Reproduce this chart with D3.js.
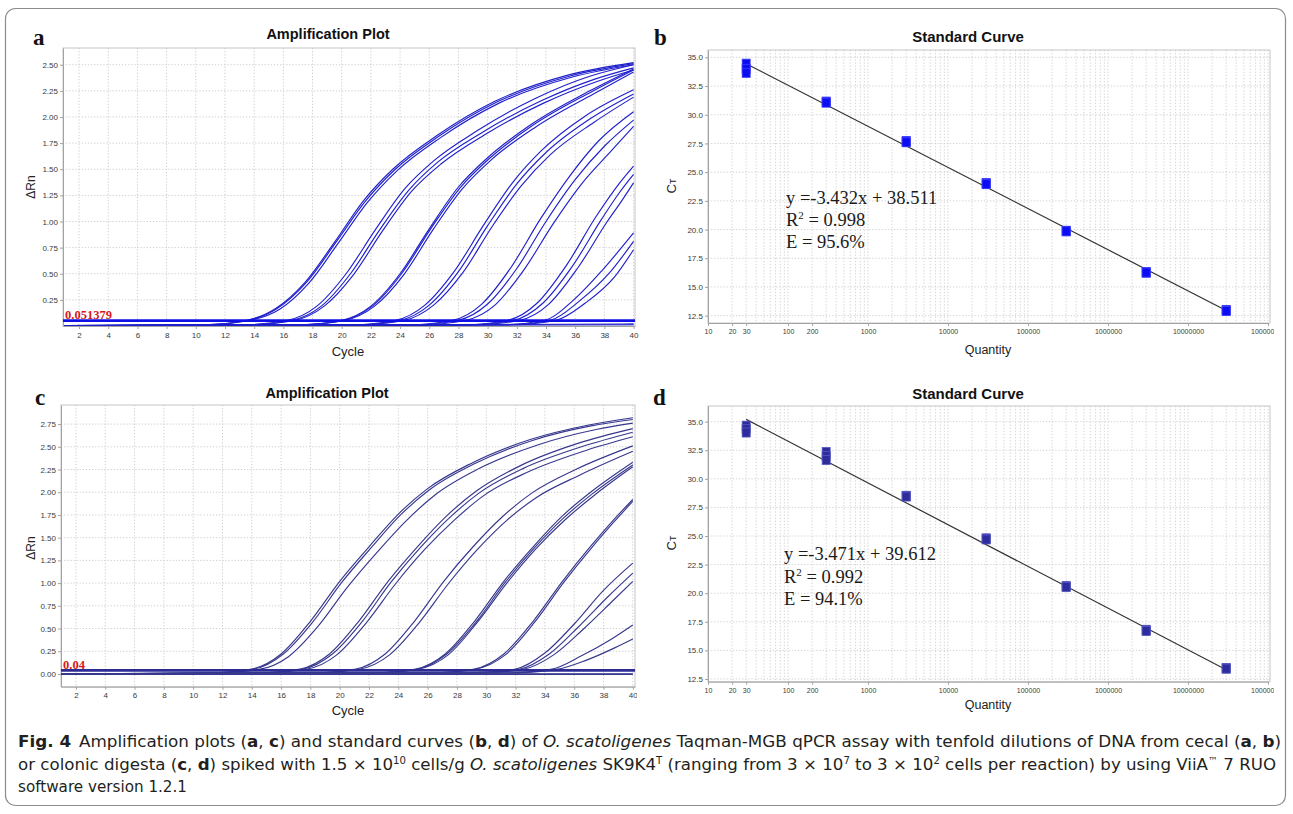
<!DOCTYPE html>
<html><head><meta charset="utf-8">
<script src="https://cdn.jsdelivr.net/npm/d3@7"></script>
<style>body{margin:0;background:#fff}svg{display:block}</style>
</head><body>
<svg id="fig" width="1293" height="814"></svg>
<script>
// ---------------- data ----------------
const cycleTicks = [2,4,6,8,10,12,14,16,18,20,22,24,26,28,30,32,34,36,38,40];
const drnTicksA = [0.25,0.50,0.75,1.00,1.25,1.50,1.75,2.00,2.25,2.50];
const drnTicksC = [0.00,0.25,0.50,0.75,1.00,1.25,1.50,1.75,2.00,2.25,2.50,2.75];
const qtyTicks = [10,20,30,100,200,1000,10000,100000,1000000,10000000,100000000];
const ctTicks = [12.5,15.0,17.5,20.0,22.5,25.0,27.5,30.0,32.5,35.0];
const thresholdA = 0.051379;
const thresholdC = 0.04;

// amplification curves, cecal digesta (panel a): [cycle, ΔRn]
const ampCurvesA = [
  [[1,0.003],[10.5,0.012],[13.5,0.055],[15.5,0.17],[17.5,0.42],[19.5,0.80],[21.5,1.20],[23.5,1.50],[26.5,1.82],[30.5,2.15],[35.5,2.40],[40,2.52]],
  [[1,0.002],[10.6,0.012],[13.6,0.055],[15.6,0.17],[17.6,0.42],[19.6,0.80],[21.6,1.19],[23.6,1.49],[26.6,1.81],[30.6,2.14],[35.6,2.39],[40,2.51]],
  [[1,0.001],[10.75,0.012],[13.75,0.055],[15.75,0.16],[17.75,0.41],[19.75,0.79],[21.75,1.18],[23.75,1.48],[26.75,1.80],[30.75,2.13],[35.75,2.38],[40,2.50]],
  [[1,0.004],[13.3,0.012],[16.3,0.055],[18.3,0.19],[20.3,0.50],[22.3,0.92],[24.3,1.31],[26.3,1.58],[29.3,1.87],[33.3,2.18],[37,2.39],[40,2.50]],
  [[1,0.002],[13.6,0.012],[16.6,0.055],[18.6,0.19],[20.6,0.50],[22.6,0.92],[24.6,1.30],[26.6,1.57],[29.6,1.85],[33.6,2.15],[37.3,2.36],[40,2.47]],
  [[1,0.000],[13.8,0.012],[16.8,0.055],[18.8,0.19],[20.8,0.49],[22.8,0.91],[24.8,1.29],[26.8,1.55],[29.8,1.83],[33.8,2.13],[37.5,2.34],[40,2.45]],
  [[1,0.003],[17,0.012],[20,0.055],[22,0.19],[24,0.50],[26,0.93],[28,1.33],[30,1.61],[33,1.93],[37,2.25],[40,2.46]],
  [[1,0.001],[17.1,0.012],[20.1,0.055],[22.1,0.19],[24.1,0.50],[26.1,0.93],[28.1,1.32],[30.1,1.60],[33.1,1.92],[37.1,2.24],[40,2.45]],
  [[1,0.000],[17.25,0.012],[20.25,0.055],[22.25,0.19],[24.25,0.49],[26.25,0.92],[28.25,1.31],[30.25,1.59],[33.25,1.90],[37.25,2.22],[40,2.43]],
  [[1,0.004],[20.7,0.012],[23.7,0.055],[25.7,0.20],[27.7,0.52],[29.7,0.96],[31.7,1.37],[33.7,1.68],[36.7,2.01],[40,2.26]],
  [[1,0.002],[21,0.012],[24,0.055],[26,0.20],[28,0.52],[30,0.96],[32,1.36],[34,1.66],[37,1.98],[40,2.22]],
  [[1,0.000],[21.3,0.012],[24.3,0.055],[26.3,0.20],[28.3,0.51],[30.3,0.95],[32.3,1.34],[34.3,1.64],[37.3,1.95],[40,2.19]],
  [[1,0.003],[24.6,0.012],[27.6,0.055],[29.6,0.21],[31.6,0.56],[33.6,1.02],[35.6,1.43],[37.6,1.77],[40,2.05]],
  [[1,0.001],[25,0.012],[28,0.055],[30,0.21],[32,0.55],[34,1.00],[36,1.40],[38,1.72],[40,1.97]],
  [[1,0.000],[25.5,0.012],[28.5,0.055],[30.5,0.20],[32.5,0.54],[34.5,0.98],[36.5,1.37],[38.5,1.68],[40,1.91]],
  [[1,0.003],[28.4,0.012],[31.4,0.055],[33.4,0.22],[35.4,0.58],[37.4,1.04],[39,1.36],[40,1.53]],
  [[1,0.001],[28.8,0.012],[31.8,0.055],[33.8,0.22],[35.8,0.57],[37.8,1.02],[39,1.27],[40,1.45]],
  [[1,0.000],[29.2,0.012],[32.2,0.055],[34.2,0.21],[36.2,0.56],[38.2,1.00],[39.2,1.20],[40,1.37]],
  [[1,0.003],[31,0.012],[33.9,0.055],[35.9,0.25],[37.9,0.54],[40,0.89]],
  [[1,0.001],[31.3,0.012],[34.3,0.055],[36.3,0.24],[38.3,0.50],[40,0.81]],
  [[1,0.000],[31.7,0.012],[34.7,0.055],[36.7,0.22],[38.7,0.47],[40,0.73]],
  [[1,0.004],[20,0.008],[40,0.020]],
  [[1,0.002],[40,0.012]]
];

// amplification curves, colonic digesta (panel c)
const ampCurvesC = [
  [[1,0.000],[11,0.012],[14,0.055],[16,0.22],[18,0.58],[20,1.02],[22,1.40],[24,1.76],[26,2.04],[29,2.32],[33,2.58],[37,2.74],[40,2.82]],
  [[1,-0.005],[11.15,0.012],[14.15,0.055],[16.15,0.22],[18.15,0.57],[20.15,1.01],[22.15,1.39],[24.15,1.75],[26.15,2.03],[29.15,2.31],[33.15,2.57],[37.15,2.73],[40,2.80]],
  [[1,0.000],[11.5,0.012],[14.5,0.05],[16.5,0.19],[18.5,0.52],[20.5,0.95],[22.5,1.33],[24.5,1.68],[26.5,1.97],[29.5,2.26],[33.5,2.52],[37.5,2.69],[40,2.76]],
  [[1,0.000],[14.3,0.012],[17.3,0.055],[19.3,0.22],[21.3,0.58],[23.3,1.02],[25.3,1.40],[27.3,1.74],[29.3,2.01],[32.3,2.29],[36.3,2.54],[40,2.70]],
  [[1,-0.005],[14.5,0.012],[17.5,0.055],[19.5,0.22],[21.5,0.57],[23.5,1.01],[25.5,1.39],[27.5,1.72],[29.5,1.99],[32.5,2.26],[36.5,2.50],[40,2.66]],
  [[1,0.000],[14.8,0.012],[17.8,0.055],[19.8,0.21],[21.8,0.56],[23.8,0.99],[25.8,1.37],[27.8,1.69],[29.8,1.96],[32.8,2.22],[36.8,2.46],[40,2.61]],
  [[1,0.000],[18.1,0.012],[21.1,0.055],[23.1,0.22],[25.1,0.58],[27.1,1.02],[29.1,1.40],[31.1,1.73],[33.1,1.99],[36.1,2.25],[40,2.51]],
  [[1,-0.004],[18.4,0.012],[21.4,0.055],[23.4,0.21],[25.4,0.56],[27.4,0.99],[29.4,1.37],[31.4,1.69],[33.4,1.94],[36.4,2.19],[40,2.45]],
  [[1,0.000],[22.2,0.012],[25.2,0.055],[27.2,0.22],[29.2,0.58],[31.2,1.02],[33.2,1.40],[35.2,1.74],[37.2,2.01],[40,2.33]],
  [[1,-0.003],[22.3,0.012],[25.3,0.055],[27.3,0.22],[29.3,0.57],[31.3,1.01],[33.3,1.39],[35.3,1.72],[37.3,1.99],[40,2.30]],
  [[1,0.000],[22.4,0.012],[25.4,0.055],[27.4,0.21],[29.4,0.57],[31.4,1.00],[33.4,1.38],[35.4,1.70],[37.4,1.97],[40,2.28]],
  [[1,0.000],[26.2,0.012],[29.2,0.055],[31.2,0.22],[33.2,0.58],[35.2,1.02],[37.2,1.42],[38.6,1.68],[40,1.92]],
  [[1,-0.004],[26.3,0.012],[29.3,0.055],[31.3,0.21],[33.3,0.57],[35.3,1.01],[37.3,1.41],[38.7,1.67],[40,1.90]],
  [[1,0.000],[29,0.012],[32,0.055],[34,0.23],[36,0.55],[38,0.92],[40,1.22]],
  [[1,-0.003],[29.3,0.012],[32.3,0.055],[34.3,0.22],[36.3,0.52],[38.3,0.85],[40,1.11]],
  [[1,0.000],[29.6,0.012],[32.6,0.055],[34.6,0.21],[36.6,0.49],[38.6,0.80],[40,1.02]],
  [[1,0.000],[31.5,0.012],[34.5,0.055],[36.5,0.20],[38.5,0.38],[40,0.54]],
  [[1,-0.004],[31.8,0.012],[34.8,0.05],[36.8,0.15],[38.8,0.29],[40,0.385]],
  [[1,-0.006],[40,-0.004]],
  [[1,0.002],[40,0.001]]
];

// standard curves
const quantities = [30,300,3000,30000,300000,3000000,30000000];
const ctRepsB = [[34.45,34.0,33.65],[31.15,31.1,31.05],[27.72,27.65,27.6],[24.05,24.0,23.95],[19.9,19.85,19.85],[16.3,16.25,16.25],[13.0,12.95,12.9]];
const ctRepsD = [[34.65,34.35,34.05],[32.35,32.0,31.65],[28.52,28.5,28.45],[24.8,24.75,24.7],[20.62,20.58,20.55],[16.8,16.75,16.7],[13.45,13.42,13.4]];
const fitLineB = [[30,34.45],[30000000,12.95]];
const fitLineD = [[30,35.2],[30000000,13.3]];
const equationB = {slope:"-3.432", intercept:"38.511", r2:"0.998", eff:"95.6%"};
const equationD = {slope:"-3.471", intercept:"39.612", r2:"0.992", eff:"94.1%"};

// ---------------- drawing ----------------
const svg = d3.select('#fig');
const SANS = "'Liberation Sans', Arial, Helvetica, sans-serif";
const SERIF = "'Liberation Serif', 'Times New Roman', serif";
const defs = svg.append('defs');
svg.append('rect').attr('width',1293).attr('height',814).attr('fill','#fff');

function clip(id,x,y,w,h){
  defs.append('clipPath').attr('id',id).append('rect').attr('x',x).attr('y',y).attr('width',w).attr('height',h);
  return `url(#${id})`;
}
function styleAxis(sel,fs){
  sel.select('.domain').attr('stroke','#a3a3a3');
  sel.selectAll('.tick line').attr('stroke','#a3a3a3');
  sel.selectAll('text').attr('font-family',SANS).attr('font-size',fs).attr('fill','#3a3a3a');
}

function ampPanel(o){
  const root = svg.append('g').attr('clip-path', clip(o.id+'outer',0,0,o.clipR,814));
  const x = d3.scaleLinear().domain(o.xDom).range([o.l,o.r]);
  const y = d3.scaleLinear().domain(o.yDom).range([o.b,o.t]);
  const grid = root.append('g').attr('stroke','#cfcfcf').attr('stroke-dasharray','1.3,1.8');
  grid.selectAll('.v').data(cycleTicks).join('line')
    .attr('x1',d=>x(d)).attr('x2',d=>x(d)).attr('y1',o.t).attr('y2',o.b);
  grid.selectAll('.h').data(o.yTicks).join('line')
    .attr('x1',o.l).attr('x2',o.r).attr('y1',d=>y(d)).attr('y2',d=>y(d));
  root.append('rect').attr('x',o.l).attr('y',o.t).attr('width',o.r-o.l).attr('height',o.b-o.t)
    .attr('fill','none').attr('stroke','#c6c6c6');
  const xa = root.append('g').attr('transform',`translate(0,${o.b})`)
    .call(d3.axisBottom(x).tickValues(cycleTicks).tickSize(3).tickSizeOuter(0).tickPadding(3).tickFormat(d3.format('d')));
  styleAxis(xa,8);
  const ya = root.append('g').attr('transform',`translate(${o.l},0)`)
    .call(d3.axisLeft(y).tickValues(o.yTicks).tickSize(3).tickSizeOuter(0).tickPadding(2).tickFormat(d3.format('.2f')));
  styleAxis(ya,8);
  const plot = root.append('g').attr('clip-path', clip(o.id+'plot',o.l,o.t,o.r-o.l,o.b-o.t));
  const line = d3.line().x(d=>x(d[0])).y(d=>y(d[1])).curve(d3.curveMonotoneX);
  plot.selectAll('path.c').data(o.curves).join('path').attr('class','c')
    .attr('d',line).attr('fill','none').attr('stroke',o.color).attr('stroke-width',1.15);
  plot.append('line').attr('x1',x(o.xDom[0])).attr('x2',x(o.xDom[1]))
    .attr('y1',y(o.thr)).attr('y2',y(o.thr)).attr('stroke',o.thrColor).attr('stroke-width',2.6);
  root.append('text').attr('x',x(o.xDom[0])+2).attr('y',y(o.thr)-1.5)
    .attr('font-family',SERIF).attr('font-weight','bold').attr('font-size',12.5).attr('fill','#d81818')
    .text(o.thrLabel);
  // titles and labels
  svg.append('text').attr('x',o.titleX).attr('y',o.titleY).attr('text-anchor','middle')
    .attr('font-family',SANS).attr('font-weight','bold').attr('font-size',14.5).attr('fill','#111')
    .text('Amplification Plot');
  svg.append('text').attr('x',o.xlabX).attr('y',o.xlabY).attr('text-anchor','middle')
    .attr('font-family',SANS).attr('font-size',13).attr('fill','#222').text('Cycle');
  svg.append('text').attr('transform',`translate(${o.ylabX},${o.ylabY}) rotate(-90)`).attr('text-anchor','middle')
    .attr('font-family',SANS).attr('font-size',12).attr('fill','#222').text('ΔRn');
  svg.append('text').attr('x',o.letterX).attr('y',o.letterY)
    .attr('font-family',SERIF).attr('font-weight','bold').attr('font-size',23).attr('fill','#111').text(o.letter);
}

function stdPanel(o){
  const root = svg.append('g').attr('clip-path', clip(o.id+'outer',640,0,1274-640,814));
  const x = d3.scaleLog().domain([10,100000000]).range([o.l,o.xEnd]);
  const y = d3.scaleLinear().domain(o.yDom).range([o.b,o.t]);
  const grid = root.append('g').attr('stroke','#d2d2d2').attr('stroke-dasharray','1.3,1.8');
  grid.selectAll('.v').data(x.ticks()).join('line')
    .attr('x1',d=>x(d)).attr('x2',d=>x(d)).attr('y1',o.t).attr('y2',o.b);
  grid.selectAll('.h').data(ctTicks).join('line')
    .attr('x1',o.l).attr('x2',o.r).attr('y1',d=>y(d)).attr('y2',d=>y(d));
  root.append('rect').attr('x',o.l).attr('y',o.t).attr('width',o.r-o.l).attr('height',o.b-o.t)
    .attr('fill','none').attr('stroke','#c6c6c6');
  const xa = root.append('g').attr('transform',`translate(0,${o.b})`)
    .call(d3.axisBottom(x).tickValues(qtyTicks).tickSize(3).tickSizeOuter(0).tickPadding(3).tickFormat(d3.format('d')));
  styleAxis(xa,7);
  const ya = root.append('g').attr('transform',`translate(${o.l},0)`)
    .call(d3.axisLeft(y).tickValues(ctTicks).tickSize(3).tickSizeOuter(0).tickPadding(2).tickFormat(d3.format('.1f')));
  styleAxis(ya,8);
  const line = d3.line().x(d=>x(d[0])).y(d=>y(d[1]));
  root.append('path').attr('d',line(o.fit)).attr('fill','none').attr('stroke','#333').attr('stroke-width',1.2);
  const pts = [];
  quantities.forEach((q,i)=>o.reps[i].forEach(ct=>pts.push([q,ct])));
  root.selectAll('rect.m').data(pts).join('rect').attr('class','m')
    .attr('x',d=>x(d[0])-4).attr('y',d=>y(d[1])-4.5).attr('width',8).attr('height',9)
    .attr('fill',o.mFill).attr('stroke',o.mStroke).attr('stroke-width',0.8);
  // equation
  const eq = svg.append('g').attr('font-family',SERIF).attr('font-size',18.5).attr('fill','#1a1a1a');
  eq.append('text').attr('x',o.eqX).attr('y',o.eqY[0]).text(`y =${o.eq.slope}x + ${o.eq.intercept}`);
  const r = eq.append('text').attr('x',o.eqX).attr('y',o.eqY[1]);
  r.append('tspan').text('R');
  r.append('tspan').attr('font-size',11).attr('dy',-7).text('2');
  r.append('tspan').attr('dy',7).text(` = ${o.eq.r2}`);
  eq.append('text').attr('x',o.eqX).attr('y',o.eqY[2]).text(`E = ${o.eq.eff}`);
  // titles
  svg.append('text').attr('x',968).attr('y',o.titleY).attr('text-anchor','middle')
    .attr('font-family',SANS).attr('font-weight','bold').attr('font-size',15).attr('fill','#111')
    .text('Standard Curve');
  svg.append('text').attr('x',988).attr('y',o.xlabY).attr('text-anchor','middle')
    .attr('font-family',SANS).attr('font-size',12.5).attr('fill','#222').text('Quantity');
  const ct = svg.append('text').attr('transform',`translate(${o.ylabX},${o.ylabY}) rotate(-90)`).attr('text-anchor','middle')
    .attr('font-family',SANS).attr('font-size',13).attr('fill','#222');
  ct.append('tspan').text('C');
  ct.append('tspan').attr('font-size',9).text('T');
  svg.append('text').attr('x',o.letterX).attr('y',o.letterY)
    .attr('font-family',SERIF).attr('font-weight','bold').attr('font-size',23).attr('fill','#111').text(o.letter);
}

ampPanel({id:'a', letter:'a', letterX:33, letterY:45, l:63, r:635, t:48, b:326, xDom:[0.9,40.1], yDom:[0,2.66],
  yTicks:drnTicksA, curves:ampCurvesA, color:'#2020cc', thr:thresholdA, thrColor:'#1010e6', thrLabel:'0.051379',
  clipR:660, titleX:328, titleY:39, xlabX:348, xlabY:356, ylabX:35, ylabY:187});
ampPanel({id:'c', letter:'c', letterX:35, letterY:405, l:61, r:635, t:405, b:686.7, xDom:[0.98,40.15], yDom:[-0.14,2.96],
  yTicks:drnTicksC, curves:ampCurvesC, color:'#38388f', thr:thresholdC, thrColor:'#2c2c94', thrLabel:'0.04',
  clipR:637, titleX:327, titleY:398, xlabX:348, xlabY:715, ylabX:35, ylabY:548});
stdPanel({id:'b', letter:'b', letterX:654, letterY:45, l:708, r:1270, xEnd:1268, t:50, b:323, yDom:[11.86,35.64],
  reps:ctRepsB, fit:fitLineB, mFill:'#0c0cf2', mStroke:'#3c3cff', eq:equationB, eqX:786, eqY:[204,225.7,247.5],
  titleY:42, xlabY:354, ylabX:676, ylabY:186});
stdPanel({id:'d', letter:'d', letterX:653, letterY:405, l:708, r:1270, xEnd:1268, t:406, b:681.7, yDom:[12.26,36.37],
  reps:ctRepsD, fit:fitLineD, mFill:'#2c2c9c', mStroke:'#5656c0', eq:equationD, eqX:784, eqY:[560,582.7,605],
  titleY:399, xlabY:709, ylabX:676, ylabY:543});

// outer frame
svg.append('rect').attr('x',5.5).attr('y',8.5).attr('width',1280).attr('height',797).attr('rx',10)
  .attr('fill','none').attr('stroke','#8c8c8c').attr('stroke-width',1.2);

// caption
const CAP = "'Liberation Sans Narrow', 'DejaVu Sans Condensed', 'Roboto Condensed', 'Arial Narrow', 'Liberation Sans', sans-serif";
const cap = svg.append('g').attr('font-family',CAP).attr('font-size',16.5).attr('fill','#231f20');
function addSegs(t,segs){
  segs.forEach(s=>{
    const ts = t.append('tspan').text(s.t);
    if(s.b) ts.attr('font-weight','bold');
    if(s.i) ts.attr('font-style','italic');
    if(s.sup){ ts.attr('font-size',10).attr('dy',-6.5); }
    if(s.after) ts.attr('dy',6.5);
    if(s.dx) ts.attr('dx',s.dx);
  });
}
const l1 = cap.append('text').attr('x',18).attr('y',747).attr('textLength',1263).attr('lengthAdjust','spacingAndGlyphs');
addSegs(l1,[{t:'Fig. 4',b:1},{t:'Amplification plots (',dx:7},{t:'a',b:1},{t:', '},{t:'c',b:1},{t:') and standard curves ('},
  {t:'b',b:1},{t:', '},{t:'d',b:1},{t:') of '},{t:'O. scatoligenes',i:1},{t:' Taqman-MGB qPCR assay with tenfold dilutions of DNA from cecal ('},
  {t:'a',b:1},{t:', '},{t:'b',b:1},{t:')'}]);
const l2 = cap.append('text').attr('x',18).attr('y',770).attr('textLength',1258).attr('lengthAdjust','spacingAndGlyphs');
addSegs(l2,[{t:'or colonic digesta ('},{t:'c',b:1},{t:', '},{t:'d',b:1},{t:') spiked with 1.5 × 10'},{t:'10',sup:1},
  {t:' cells/g ',after:1},{t:'O. scatoligenes',i:1},{t:' SK9K4'},{t:'T',sup:1},{t:' (ranging from 3 × 10',after:1},{t:'7',sup:1},
  {t:' to 3 × 10',after:1},{t:'2',sup:1},{t:' cells per reaction) by using ViiA',after:1},{t:'™',sup:1},{t:' 7 RUO',after:1}]);
cap.append('text').attr('x',18).attr('y',792).attr('textLength',169).attr('lengthAdjust','spacingAndGlyphs')
  .text('software version 1.2.1');
</script>
</body></html>
